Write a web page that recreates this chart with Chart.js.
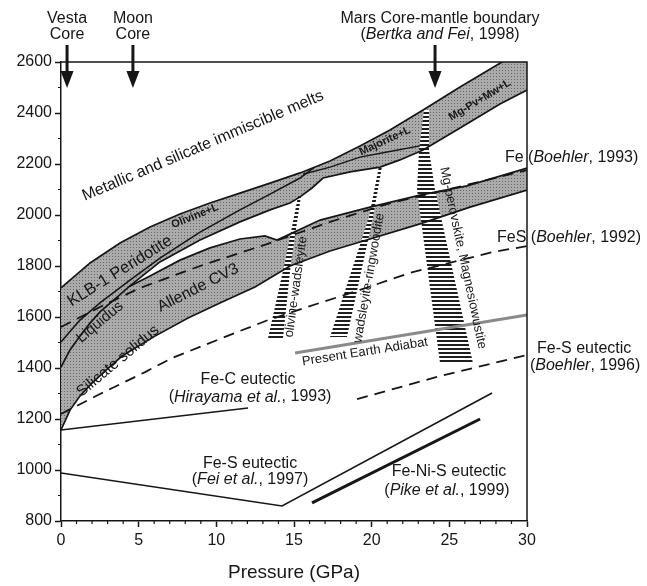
<!DOCTYPE html>
<html>
<head>
<meta charset="utf-8">
<script src="https://cdn.jsdelivr.net/npm/chart.js"></script>
<style>
  html, body { margin: 0; padding: 0; background: #fff; }
  #wrap { width: 647px; height: 586px; }
</style>
</head>
<body>
<div id="wrap"><canvas id="melt" width="647" height="586"></canvas></div>
<script>
// all curves are [pressure GPa, temperature C]
const klbTop = [[0,1714],[1.87,1812],[3.8,1890],[5.73,1953],[7.66,2004],[9.59,2047],[11.52,2086],[13.46,2125],[15.39,2165],[17.32,2212],[19.25,2271],[21.18,2333],[23.31,2412],[25.69,2502],[28.39,2600],[30,2660]];
const klbLiquidus = [[0,1502],[1.22,1588],[2.51,1655],[4.44,1745],[6.37,1831],[8.95,1933],[11.52,2020],[13.46,2082],[15.39,2145],[16.3,2187]];
const upperBandBottom = [[4.4,1720],[6.37,1816],[8.95,1902],[11.52,1973],[13.46,2020],[14.74,2047],[15.39,2071],[16.16,2106],[16.87,2145],[18.61,2169],[20.54,2188],[21.82,2216],[23.31,2255],[25.69,2341],[28.26,2435],[30,2490]];
const majoriteLine = [[15.58,2160],[17.32,2188],[19.25,2227],[20.99,2247],[23.11,2271]];
const allendeTop = [[0,1404],[0.58,1471],[1.22,1525],[1.87,1576],[2.51,1620],[3.5,1672],[4.4,1720],[5.73,1761],[7.66,1823],[9.59,1871],[11.52,1906],[13.13,1918],[13.9,1902],[14.74,1925],[16.68,1980],[19.89,2031],[23.11,2078],[26.14,2114],[30,2184]];
const allendeBottom = [[0,1157],[0.58,1235],[1.22,1290],[2.0,1341],[2.83,1388],[3.93,1447],[6.05,1525],[8.18,1596],[10.37,1659],[12.49,1718],[14.74,1800],[17.32,1859],[19.25,1894],[23.11,1965],[26.33,2031],[30,2098]];

const feBoehler93 = [[0,1561],[2.51,1639],[5.09,1714],[8.95,1800],[13.26,1886],[17.32,1973],[20.99,2043],[26.14,2118],[30,2176]];
const fesBoehler92 = [[0,1220],[2.51,1298],[5.41,1384],[7.15,1439],[11.01,1533],[13.33,1588],[15.84,1639],[19.25,1706],[22.47,1773],[27.81,1855],[30,1878]];
const fesEutBoehler96 = [[19.06,1278],[24.2,1365],[30,1451]];
const feCEut = [[0,1157],[12.04,1243]];
const fesEutFei = [[0,988],[14.23,859],[27.75,1302]];
const feNiSEut = [[16.16,871],[26.98,1200]];
const earthAdiabat = [[15.07,1459],[30,1608]];

// phase transition zones (outline corners)
const olWadZone = [[15.26,2074],[15.45,2074],[14.81,1816],[14.29,1518],[13.33,1518],[14.42,1816]];
const wadRingZone = [[20.47,2192],[20.67,2192],[20.09,1992],[18.41,1522],[17.32,1522],[19.83,1992]];
const mgPvZone = [[23.37,2412],[23.69,2412],[23.69,2255],[24.08,2098],[26.52,1420],[24.4,1420],[22.92,2098],[23.05,2255]];

const xTicks = [0, 5, 10, 15, 20, 25, 30];
const yTicks = [800, 1000, 1200, 1400, 1600, 1800, 2000, 2200, 2400, 2600];
const arrowsP = [0.39, 4.63, 24.08];

const FONT = '"Liberation Sans", Arial, Helvetica, sans-serif';
const INK = '#161616';
Chart.defaults.font.family = FONT;

function pts(arr) {
  return arr.map(function (p) { return {x: p[0], y: p[1]}; });
}

function makeGray() {
  const c = document.createElement('canvas');
  c.width = 3; c.height = 3;
  const g = c.getContext('2d');
  g.fillStyle = '#ababab';
  g.fillRect(0, 0, 3, 3);
  g.fillStyle = '#666';
  g.fillRect(1, 1, 1, 1);
  return g.createPattern(c, 'repeat');
}

function makeHatch() {
  const c = document.createElement('canvas');
  c.width = 4; c.height = 4;
  const g = c.getContext('2d');
  g.fillStyle = '#fff';
  g.fillRect(0, 0, 4, 4);
  g.fillStyle = '#1e1e1e';
  g.fillRect(0, 0, 4, 2);
  return g.createPattern(c, 'repeat');
}

const gray = makeGray();
const hatch = makeHatch();

function line(arr, width, dash) {
  return {data: pts(arr), showLine: true, borderColor: INK, borderWidth: width, borderDash: dash || [],
    pointRadius: 0, fill: false, tension: 0};
}
function shape(arr, bg) {
  return {data: pts(arr), showLine: true, borderColor: 'rgba(0,0,0,0)', borderWidth: 1,
    pointRadius: 0, fill: 'shape', backgroundColor: bg, tension: 0};
}

// upper band: klbTop down to allendeTop (left of the lens tip) and then upperBandBottom
const lensEdge = allendeTop.filter(function (p) { return p[0] < 4.4; }).concat(upperBandBottom);
const upperShape = klbTop.concat(lensEdge.slice().reverse());
const lowerShape = allendeTop.concat(allendeBottom.slice().reverse());

const adiabat = line(earthAdiabat, 3);
adiabat.borderColor = '#8a8a8a';

const datasets = [
  line(klbTop, 1.7),
  line(klbLiquidus, 1.6),
  line(upperBandBottom, 1.7),
  line(majoriteLine, 1.4),
  line(allendeTop, 1.7),
  line(allendeBottom, 1.7),
  line(feBoehler93, 1.8, [11, 7]),
  line(fesBoehler92, 1.8, [11, 7]),
  line(fesEutBoehler96, 1.8, [11, 7]),
  line(feCEut, 1.6),
  line(fesEutFei, 1.6),
  line(feNiSEut, 3),
  adiabat,
  shape(olWadZone, hatch),
  shape(wadRingZone, hatch),
  shape(mgPvZone, hatch),
  shape(upperShape, gray),
  shape(lowerShape, gray)
];

const notes = [
  ['Metallic and silicate immiscible melts', 9.14, 2271, -23, 16, ''],
  ['KLB-1 Peridotite', 3.8, 1780, -32, 16.5, ''],
  ['Olivine+L', 8.63, 1996, -22, 11, 'bold '],
  ['Liquidus', 2.51, 1580, -40, 15, ''],
  ['Allende CV3', 8.82, 1714, -27, 16, ''],
  ['Silicate solidus', 3.67, 1427, -40, 15.5, ''],
  ['Majorite+L', 20.86, 2290, -25, 11, 'bold '],
  ['Mg-Pv+Mw+L', 26.97, 2451, -31, 11, 'bold '],
  ['olivine-wadsleyite', 15.13, 1718, -82, 13, ''],
  ['wadsleyite-ringwoodite', 19.83, 1753, -80, 13, ''],
  ['Mg-perovskite, Magnesiowustite', 25.88, 1831, 78, 13, ''],
  ['Present Earth Adiabat', 19.57, 1463, -9, 13, '']
];

const refs = [
  [[['Fe-C eutectic', 0]], 12.04, 1353, 'center'],
  [[['(', 0], ['Hirayama et al.', 1], [', 1993)', 0]], 12.17, 1286, 'center'],
  [[['Fe-S eutectic', 0]], 12.17, 1027, 'center'],
  [[['(', 0], ['Fei et al.', 1], [', 1997)', 0]], 12.17, 961, 'center'],
  [[['Fe-Ni-S eutectic', 0]], 24.98, 992, 'center'],
  [[['(', 0], ['Pike et al.', 1], [', 1999)', 0]], 24.85, 918, 'center'],
  [[['Fe (', 0], ['Boehler', 1], [', 1993)', 0]], 28.58, 2227, 'left'],
  [[['FeS (', 0], ['Boehler', 1], [', 1992)', 0]], 28.07, 1910, 'left'],
  [[['Fe-S eutectic', 0]], 30.65, 1478, 'left'],
  [[['(', 0], ['Boehler', 1], [', 1996)', 0]], 30.19, 1408, 'left']
];

function richText(ctx, parts, x, y, align, size) {
  const widths = parts.map(function (p) {
    ctx.font = (p[1] ? 'italic ' : '') + size + 'px ' + FONT;
    return ctx.measureText(p[0]).width;
  });
  const total = widths.reduce(function (a, b) { return a + b; }, 0);
  let cx = align === 'center' ? x - total / 2 : x;
  ctx.textAlign = 'left';
  ctx.textBaseline = 'middle';
  parts.forEach(function (p, i) {
    ctx.font = (p[1] ? 'italic ' : '') + size + 'px ' + FONT;
    ctx.fillText(p[0], cx, y);
    cx += widths[i];
  });
}

const decor = {
  id: 'decor',
  afterDraw: function (chart) {
    const ctx = chart.ctx;
    const xs = chart.scales.x, ys = chart.scales.y;
    const a = chart.chartArea;
    ctx.save();
    ctx.strokeStyle = INK;
    ctx.lineWidth = 1.5;
    // top and right frame
    ctx.beginPath();
    ctx.moveTo(a.left, a.top);
    ctx.lineTo(a.right, a.top);
    ctx.lineTo(a.right, a.bottom);
    ctx.stroke();
    // minor ticks
    ctx.lineWidth = 1.2;
    ctx.beginPath();
    for (let p = 1; p < 30; p++) {
      if (p % 5 === 0) continue;
      const px = xs.getPixelForValue(p);
      ctx.moveTo(px, a.bottom);
      ctx.lineTo(px, a.bottom + 3);
    }
    for (let t = 900; t < 2600; t += 200) {
      const py = ys.getPixelForValue(t);
      ctx.moveTo(a.left, py);
      ctx.lineTo(a.left - 3, py);
    }
    ctx.stroke();

    ctx.fillStyle = INK;
    notes.forEach(function (n) {
      ctx.save();
      ctx.translate(xs.getPixelForValue(n[1]), ys.getPixelForValue(n[2]));
      ctx.rotate(n[3] * Math.PI / 180);
      ctx.font = n[5] + n[4] + 'px ' + FONT;
      ctx.textAlign = 'center';
      ctx.textBaseline = 'middle';
      ctx.fillText(n[0], 0, 0);
      ctx.restore();
    });
    refs.forEach(function (r) {
      richText(ctx, r[0], xs.getPixelForValue(r[1]), ys.getPixelForValue(r[2]), r[3], 16);
    });

    // arrows and labels above the frame
    arrowsP.forEach(function (p) {
      const px = xs.getPixelForValue(p);
      ctx.lineWidth = 3;
      ctx.beginPath();
      ctx.moveTo(px, 45);
      ctx.lineTo(px, 73);
      ctx.stroke();
      ctx.beginPath();
      ctx.moveTo(px - 6.5, 71);
      ctx.lineTo(px + 6.5, 71);
      ctx.lineTo(px, 88);
      ctx.closePath();
      ctx.fill();
    });
    ctx.font = '16px ' + FONT;
    ctx.textAlign = 'center';
    ctx.textBaseline = 'middle';
    ctx.fillText('Vesta', xs.getPixelForValue(0.39), 19);
    ctx.fillText('Core', xs.getPixelForValue(0.39), 35);
    ctx.fillText('Moon', xs.getPixelForValue(4.63), 19);
    ctx.fillText('Core', xs.getPixelForValue(4.63), 35);
    ctx.fillText('Mars Core-mantle boundary', xs.getPixelForValue(24.4), 19);
    richText(ctx, [['(', 0], ['Bertka and Fei', 1], [', 1998)', 0]], xs.getPixelForValue(24.4), 35, 'center', 16);
    ctx.restore();
  }
};

new Chart(document.getElementById('melt').getContext('2d'), {
  type: 'scatter',
  data: {datasets: datasets},
  options: {
    responsive: false,
    animation: false,
    layout: {padding: {left: 0, right: 120, top: 62, bottom: 0}},
    plugins: {legend: {display: false}, tooltip: {enabled: false}},
    scales: {
      x: {
        type: 'linear', min: 0, max: 30,
        afterBuildTicks: function (s) { s.ticks = xTicks.map(function (v) { return {value: v}; }); },
        afterFit: function (s) { s.height = 65; },
        grid: {display: true, drawOnChartArea: false, drawTicks: true, tickLength: 6, tickColor: INK, tickWidth: 1.5},
        border: {display: true, color: INK, width: 1.5},
        ticks: {color: INK, font: {size: 16}, padding: 4, maxRotation: 0, autoSkip: false,
          callback: function (v) { return String(v); }},
        title: {display: true, text: 'Pressure (GPa)', color: INK, font: {size: 19}, padding: {top: 0, bottom: 2}}
      },
      y: {
        type: 'linear', min: 800, max: 2600,
        afterBuildTicks: function (s) { s.ticks = yTicks.map(function (v) { return {value: v}; }); },
        afterFit: function (s) { s.width = 61; },
        grid: {display: true, drawOnChartArea: false, drawTicks: true, tickLength: 6, tickColor: INK, tickWidth: 1.5},
        border: {display: true, color: INK, width: 1.5},
        ticks: {color: INK, font: {size: 16}, padding: 3, autoSkip: false,
          callback: function (v) { return String(v); }}
      }
    }
  },
  plugins: [decor]
});
</script>
</body>
</html>
